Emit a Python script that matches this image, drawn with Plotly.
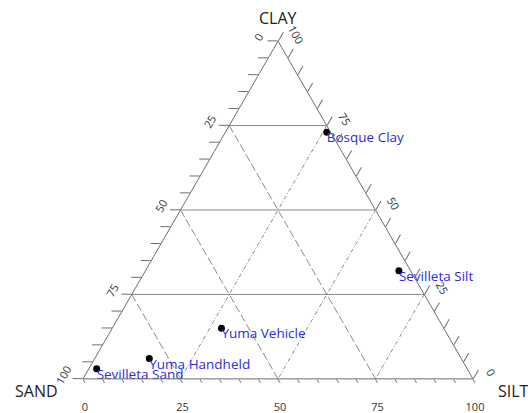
import plotly.graph_objects as go

# ---- data ----
sample_names = ["Bosque Clay", "Sevilleta Silt", "Yuma Vehicle", "Yuma Handheld", "Sevilleta Sand"]
sand = [1, 3, 57, 80, 95]
silt = [26, 65, 28, 14, 2]
clay = [73, 32, 15, 6, 3]

grid_levels = [25, 50, 75]
tick_values = list(range(0, 101, 5))
major_ticks = [0, 25, 50, 75, 100]
axis_titles = ["CLAY", "SAND", "SILT"]

GRID = "#8a8a8a"
AXIS = "#6e6e6e"
FONT = "Open Sans, Lato, DejaVu Sans, sans-serif"
NB = "\u00a0"

fig = go.Figure()

# grid lines: constant clay (solid), constant sand (dash), constant silt (dashdot)
for g in grid_levels:
    fig.add_trace(go.Scatterternary(a=[g, g], b=[100 - g, 0], c=[0, 100 - g], mode="lines",
                                    line=dict(color=GRID, width=1), hoverinfo="skip", showlegend=False))
    fig.add_trace(go.Scatterternary(a=[100 - g, 0], b=[g, g], c=[0, 100 - g], mode="lines",
                                    line=dict(color=GRID, width=1, dash="8px,3px"), hoverinfo="skip", showlegend=False))
    fig.add_trace(go.Scatterternary(a=[100 - g, 0], b=[0, 100 - g], c=[g, g], mode="lines",
                                    line=dict(color=GRID, width=1, dash="4px,2px,1px,2px"), hoverinfo="skip", showlegend=False))

# samples
fig.add_trace(go.Scatterternary(
    a=clay, b=sand, c=silt, mode="markers",
    marker=dict(color="black", size=7), cliponaxis=False,
    showlegend=False,
))
fig.add_trace(go.Scatterternary(
    a=clay, b=sand, c=silt, mode="text", text=sample_names,
    textposition="bottom right", cliponaxis=False,
    textfont=dict(color="#2b2bdc", size=13.5, family=FONT),
    showlegend=False, hoverinfo="skip",
))


def ticktext(vals, prefix="", suffix=""):
    return [prefix + str(100 - v) + suffix if v in major_ticks else "" for v in vals]


def axis_common(ticklen, prefix="", suffix=""):
    return dict(
        tickmode="array", tickvals=tick_values, ticktext=ticktext(tick_values, prefix, suffix),
        ticks="outside", ticklen=ticklen, tickcolor=AXIS, tickwidth=1,
        showgrid=False, linecolor=AXIS, linewidth=1, showline=True,
        tickfont=dict(size=11, color="#333333", family=FONT),
        title=dict(text=""),
    )


title_font = dict(size=16, color="#222222", family=FONT)

fig.update_layout(
    width=528, height=413,
    margin=dict(l=83, r=55, t=41, b=34),
    paper_bgcolor="white",
    ternary=dict(
        sum=100,
        bgcolor="white",
        domain=dict(x=[0, 1], y=[0, 1]),
        aaxis=dict(tickangle=-60, **axis_common(10, suffix=NB * 2)),
        baxis=dict(tickangle=0, **axis_common(4, prefix="<br>")),
        caxis=dict(tickangle=60, **axis_common(10, prefix=NB * 7)),
    ),
    annotations=[
        dict(text=axis_titles[0], xref="paper", yref="paper", x=0.5, y=1.068,
             xanchor="center", yanchor="middle", showarrow=False, font=title_font),
        dict(text=axis_titles[1], xref="paper", yref="paper", x=-0.06, y=-0.035,
             xanchor="right", yanchor="middle", showarrow=False, font=title_font),
        dict(text=axis_titles[2], xref="paper", yref="paper", x=1.059, y=-0.035,
             xanchor="left", yanchor="middle", showarrow=False, font=title_font),
    ],
)

fig.write_html("out.html")
